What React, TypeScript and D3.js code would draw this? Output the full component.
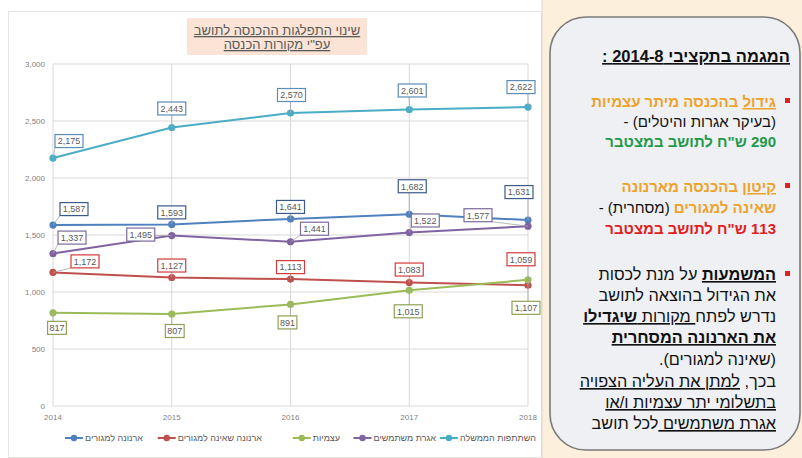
import * as d3 from "d3";

const years = [2014, 2015, 2016, 2017, 2018];
const seriesNames = [
  "השתתפות הממשלה",
  "ארנונה למגורים",
  "אגרת משתמשים",
  "ארנונה שאינה למגורים",
  "עצמיות",
];
const government = [2175, 2443, 2570, 2601, 2622];
const residential = [1587, 1593, 1641, 1682, 1631];
const userFees = [1337, 1495, 1441, 1522, 1577];
const nonResidential = [1172, 1127, 1113, 1083, 1059];
const ownIncome = [817, 807, 891, 1015, 1107];
const yTicks = [0, 500, 1000, 1500, 2000, 2500, 3000];
const titleLines = ["שינוי התפלגות ההכנסה לתושב", 'עפ"י מקורות הכנסה'];

// styles / layout
const colors = ["#4bacc6", "#4f81bd", "#8064a2", "#c0504d", "#9bbb59"];
const labelBorders = ["#5b8db8", "#3b5a8a", "#7b6b9b", "#d23a3a", "#8fa154"];
// label box centre offsets from the point, per series / year
const labelOffsets = [
  [[16, -17], [0, -19], [1, -18], [3, -19], [-7, -20]],
  [[21, -16], [0, -12], [0, -12], [3, -28], [-9, -28]],
  [[19, -16], [-31, -1], [24, -13], [16, -12], [-50, -11]],
  [[32, -11], [0, -12], [0, -12], [0, -13], [-7, -26]],
  [[4, 15], [3, 17], [-3, 18], [-1, 21], [-2, 28]],
];
// legend, left to right: series index and text right edge
const legendLayout = [
  [1, 143],
  [3, 262],
  [4, 340],
  [2, 436],
  [0, 536],
];

const FONT = "'Liberation Sans', 'DejaVu Sans', Arial, sans-serif";
const ORANGE = "#eea22a";
const GREEN = "#1f9a4a";
const RED = "#e0201e";

const fmt = d3.format(",");

function DataLabel({ px, py, dx, dy, value, border }) {
  const text = fmt(value);
  const w = text.length * 4.6 + 5;
  const h = 13;
  const cx = px + dx;
  const cy = py + dy;
  const x0 = cx - w / 2;
  const y0 = cy - h / 2;
  const nx = Math.max(x0, Math.min(px, x0 + w));
  const ny = Math.max(y0, Math.min(py, y0 + h));
  const dist = Math.hypot(nx - px, ny - py);
  return (
    <g>
      {dist > 5 && (
        <line x1={px} y1={py} x2={nx} y2={ny} stroke="#a6a6a6" strokeWidth={0.8} />
      )}
      <rect x={x0} y={y0} width={w} height={h} fill="#fff" stroke={border} strokeWidth={1.2} />
      <text x={cx} y={cy + 3.3} textAnchor="middle" fontSize={9} fill="#595959" fontFamily={FONT}>
        {text}
      </text>
    </g>
  );
}

function Bullet({ y }) {
  return <rect x={785} y={y - 3} width={5} height={5} fill={RED} />;
}

function LegendMarkers() {
  const ref = (node: SVGGElement | null) => {
    if (!node) return;
    const svg = d3.select(node.ownerSVGElement as SVGSVGElement);
    const g = d3.select(node);
    g.selectAll("*").remove();
    svg.selectAll<SVGTextElement, unknown>("text.legend").each(function () {
      const si = seriesNames.indexOf(this.textContent as string);
      const bb = this.getBBox();
      const cx = bb.x - 11;
      g.append("line").attr("x1", cx - 9).attr("x2", cx + 9).attr("y1", 438).attr("y2", 438)
        .attr("stroke", colors[si]).attr("stroke-width", 2);
      g.append("circle").attr("cx", cx).attr("cy", 438).attr("r", 3.2).attr("fill", colors[si]);
    });
  };
  return <g ref={ref} />;
}

export default function App() {
  const series = [government, residential, userFees, nonResidential, ownIncome];
  const x = d3.scalePoint<number>().domain(years).range([53, 528]);
  const y = d3.scaleLinear().domain([0, 3000]).range([406, 64]);
  const line = d3
    .line<number>()
    .x((_, i) => x(years[i]) as number)
    .y((d) => y(d));

  const tx = 776;
  const rtl = { direction: "rtl" as const, unicodeBidi: "embed" as const };

  return (
    <svg width={802} height={458} style={{ position: "absolute", left: 0, top: 0 }}>
      <rect x={0} y={0} width={802} height={458} fill="#fff" />
      {/* chart frame */}
      <rect x={8.5} y={11.5} width={533} height={446} fill="#fff" stroke="#e3e3df" />
      {/* right panel */}
      <rect x={542} y={0} width={260} height={458} fill="#fcefdc" />
      <line x1={542} y1={0} x2={542} y2={458} stroke="#d9d6cf" />
      <rect x={550} y={17} width={250} height={433} rx={36} fill="#eef0f4" stroke="#7a7a7a" strokeWidth={1.6} />

      {/* title */}
      <rect x={187} y={18} width={180} height={37} fill="#fbe4d5" />
      {titleLines.map((t, i) => (
        <text
          key={i}
          x={277}
          y={35 + i * 14}
          textAnchor="middle"
          fontSize={13}
          fill="#595959"
          fontFamily={FONT}
          textDecoration="underline"
        >
          {t}
        </text>
      ))}

      {/* grid */}
      {yTicks.map((t) => (
        <g key={t}>
          <line x1={53} x2={528} y1={y(t)} y2={y(t)} stroke="#d9d9d9" />
          <text x={45} y={y(t) + 3} textAnchor="end" fontSize={8} fill="#7f7f7f" fontFamily={FONT}>
            {fmt(t)}
          </text>
        </g>
      ))}
      {years.map((yr) => (
        <g key={yr}>
          <line x1={x(yr)} x2={x(yr)} y1={64} y2={406} stroke="#d9d9d9" />
          <text x={x(yr)} y={420} textAnchor="middle" fontSize={8} fill="#7f7f7f" fontFamily={FONT}>
            {yr}
          </text>
        </g>
      ))}

      {/* series */}
      {series.map((s, si) => (
        <g key={si}>
          <path d={line(s) as string} fill="none" stroke={colors[si]} strokeWidth={2} />
          {s.map((v, i) => (
            <circle key={i} cx={x(years[i])} cy={y(v)} r={3.6} fill={colors[si]} />
          ))}
        </g>
      ))}
      {series.map((s, si) =>
        s.map((v, i) => (
          <DataLabel
            key={si + "-" + i}
            px={x(years[i]) as number}
            py={y(v)}
            dx={labelOffsets[si][i][0]}
            dy={labelOffsets[si][i][1]}
            value={v}
            border={labelBorders[si]}
          />
        ))
      )}

      {/* legend */}
      {legendLayout.map(([si, right]) => (
        <text
          key={si}
          className="legend"
          x={right}
          y={441}
          textAnchor="end"
          fontSize={9}
          fill="#595959"
          fontFamily={FONT}
        >
          {seriesNames[si]}
        </text>
      ))}
      <LegendMarkers />

      {/* right panel text */}
      <g fontFamily={FONT} fontSize={15} fill="#111">
        <text x={790} y={62} fontWeight="bold" fontSize={16.5} textDecoration="underline" style={rtl}>
          המגמה בתקציבי 2014-8 :
        </text>

        <Bullet y={101} />
        <text x={tx} y={107} fontWeight="bold" fill={ORANGE} style={rtl}>
          <tspan textDecoration="underline">גידול</tspan> בהכנסה מיתר עצמיות
        </text>
        <text x={tx} y={127} style={rtl}>
          (בעיקר אגרות והיטלים) -
        </text>
        <text x={tx} y={147} fontWeight="bold" fill={GREEN} style={rtl}>
          290 ש"ח לתושב במצטבר
        </text>

        <Bullet y={186} />
        <text x={tx} y={192} fontWeight="bold" fill={ORANGE} style={rtl}>
          <tspan textDecoration="underline">קיטון</tspan> בהכנסה מארנונה
        </text>
        <text x={tx} y={213} style={rtl}>
          <tspan fontWeight="bold" fill={ORANGE}>שאינה למגורים</tspan> (מסחרית) -
        </text>
        <text x={tx} y={234} fontWeight="bold" fill={RED} style={rtl}>
          113 ש"ח לתושב במצטבר
        </text>

        <Bullet y={274} />
        <g fontSize={16.3}>
          <text x={tx} y={280} style={rtl}>
            <tspan fontWeight="bold" textDecoration="underline">המשמעות</tspan> על מנת לכסות
          </text>
          <text x={tx} y={301} style={rtl}>
            את הגידול בהוצאה לתושב
          </text>
          <text x={tx} y={322} style={rtl}>
            נדרש לפתח<tspan textDecoration="underline"> מקורות </tspan>
            <tspan fontWeight="bold" textDecoration="underline">שיגדילו</tspan>
          </text>
          <text x={tx} y={343} fontWeight="bold" textDecoration="underline" style={rtl}>
            את הארנונה המסחרית
          </text>
          <text x={tx} y={365} style={rtl}>
            (שאינה למגורים).
          </text>
          <text x={tx} y={387} style={rtl}>
            בכך, <tspan textDecoration="underline">למתן את העליה הצפויה</tspan>
          </text>
          <text x={tx} y={408} textDecoration="underline" style={rtl}>
            בתשלומי יתר עצמיות ו/או
          </text>
          <text x={tx} y={429} style={rtl}>
            <tspan textDecoration="underline">אגרת משתמשים </tspan>לכל תושב
          </text>
        </g>
      </g>
    </svg>
  );
}
